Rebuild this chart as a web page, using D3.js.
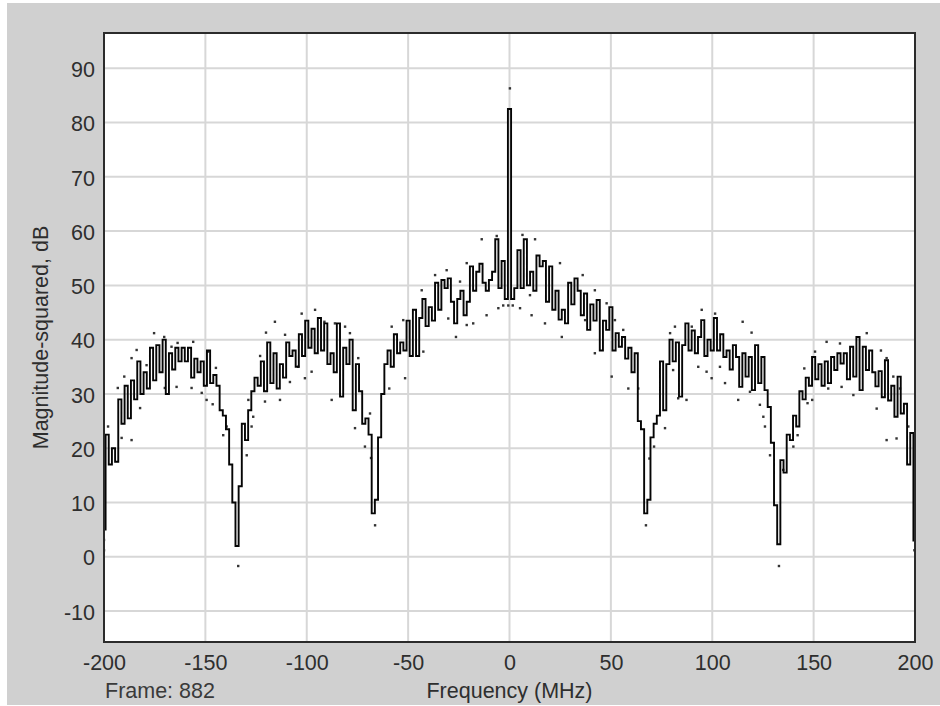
<!DOCTYPE html>
<html>
<head>
<meta charset="utf-8">
<script src="https://cdn.jsdelivr.net/npm/d3@7"></script>
<style>
  html, body { margin: 0; padding: 0; background: #ffffff; }
  svg { display: block; }
  text { font-family: "Liberation Sans", Arial, sans-serif; }
</style>
</head>
<body>
<svg id="chart" width="940" height="706"></svg>
<script>
// Spectrum frame: 257 bins evenly spaced from -200 MHz to +200 MHz
const freqStart = -200;
const freqStop = 200;
const magnitudeDb = [
  5, 22.5, 17, 20, 17.5, 29, 24.5, 31.5, 25.5, 32.5, 29, 36, 30, 34, 31, 38.5,
  32.5, 39, 34, 40, 30, 37.5, 34.5, 38.5, 36, 38.5, 36, 38.5, 33, 36.5, 34, 36,
  31.5, 38, 32, 33.5, 31.5, 27, 26, 23.5, 17, 10, 2, 13, 24.5, 21.5, 27, 30.5,
  33, 31.5, 36, 30.5, 39.5, 32, 37.5, 31, 35.5, 33, 39.5, 37, 38, 35, 41, 37,
  43.5, 38.5, 42, 37.5, 44, 38, 43, 35.5, 37.5, 34, 43, 29.5, 38.5, 35.5, 40, 27,
  35.5, 30.5, 24.5, 25.5, 22.5, 8, 10.5, 22, 30, 35.5, 38, 35, 41, 37.5, 39.5, 38,
  43.5, 37, 45.5, 37, 44, 47.5, 42.5, 46, 43.5, 50.5, 45.5, 51, 49.5, 51.3, 47, 43,
  47.5, 49, 44.5, 47, 53.5, 49, 52.5, 54, 50.5, 49, 51, 52.5, 58.5, 49.5, 54.5, 47.5,
  82.5,
  47.5, 49.5, 56.5, 49.5, 58.5, 50, 52.5, 49, 55.5, 53.5, 54.5, 47, 53.5, 45.5, 49, 43.7,
  45.5, 43, 50.5, 46.5, 51.3, 49, 44.5, 48.5, 41.8, 46.5, 43.5, 47.3, 38, 43.5, 41.8, 46,
  38, 41.2, 38.7, 40.5, 36.5, 38.5, 34, 37.5, 25, 23.5, 8, 10.5, 22, 24.5, 26, 36,
  27, 35.5, 40, 36, 39.5, 29.5, 39, 43, 38, 41.7, 37.5, 40.5, 43.6, 37, 40, 38,
  44, 38, 41, 36.8, 38, 34.5, 39, 36.8, 31.3, 37.5, 33.2, 36.8, 30.7, 39, 32, 36.8,
  30.7, 27.6, 21, 9.5, 2.3, 17.8, 15.5, 22.5, 21.5, 26, 24, 30.5, 29, 33, 31.5, 36.8,
  32.7, 35.5, 31.5, 36, 32, 36.8, 34.4, 37.5, 35.6, 37.5, 32.7, 38.7, 33.2, 40.5, 30.7, 38.7,
  34.4, 38, 34, 31.4, 34.2, 29.4, 36.2, 28.8, 31.5, 25.8, 33.2, 26.4, 28.2, 17, 22.8, 3
];

// Scattered hold samples (frequency in MHz, magnitude in dB)
const dotFreq = [
  -175.3, -170.3, -183.9, -163.7, -156, -186.4, -190, -193.2, -182.2, -191.3, -186.4, -164.2, -170, -156.8,
  -151.8, -149.4, -146.4, -144.8, -148.6, -166.7, -179, -139.5, -141.2, -200, -200, -133.8, -198,
  -95.9, -102.5, -115.7, -120.1, -110.7, -91.3, -86.1, -81.1, -78.7, -74.6, -108.3, -100.9, -104.2,
  -113.2, -120.6, -87.7, -128.8, -126.4, -127.2, -129.6, -76.2, -71.3, -68.3, -66.3, -97.6, -123,
  -13.7, -6.3, -21.1, -31, -36.7, -43.3, -58.1, -52.4, -11.3, -5.5, -26.4, -21.1, -42.5, -51.5, -59.3,
  -30.2, -17.9, -68.8, -24.4,
  -3.1, -0.6, 1.6, 5.2, 0.2, 12.6, 10.9, 25.8, 6.4, 24.9, 36.1, 42.1, 47.9, 52, 56.1, 17.5, 37.3, 42.1,
  50.4, 58.6, 63.5, 10.1,
  94.8, 101.4, 81.6, 79.2, 89.9, 115, 119.4, 103.8, 97.2, 93.1, 99.7, 106.3, 87.3, 83.2, 80.7, 112.8,
  118.6, 123.5, 125.2, 126, 128.5, 76.7, 71.3, 69, 67.3,
  176.2, 156.4, 163, 150.7, 183.2, 186, 189.3, 192.6, 145.4, 157.2, 163.8, 147, 149.3, 181.1, 186, 190.9,
  196.7, 140, 142.1, 135, 132.9, 199.7, 169.6
];
const dotDb = [
  41.2, 40.5, 38.1, 39.4, 39.6, 36.6, 33.2, 31.1, 27.4, 21.9, 21.5, 31.3, 31.1, 31.1,
  30.2, 28.9, 28.1, 34.8, 37.8, 38.7, 35.3, 24, 22.4, 3.1, 1.2, -1.7, 24,
  45.5, 44.8, 43.3, 41.3, 40.9, 43.3, 43, 42.4, 41.2, 36.6, 32.2, 32.9, 35,
  28.9, 28.6, 28.9, 28.9, 25.8, 24, 18.7, 23.7, 20.3, 18.2, 5.8, 34.1, 37,
  58.5, 59.1, 54.1, 52.8, 51.9, 49.1, 42.4, 43.6, 44.5, 45.8, 40.5, 42.7, 37.8, 32.9, 31,
  43.9, 43, 26.4, 50.7,
  46.3, 46.3, 46.3, 45.8, 86.3, 58.5, 44.5, 40.5, 59.3, 54.1, 51.9, 49.1, 46.7, 43.6, 41.8, 43, 43.6, 37.5,
  33.2, 31, 31, 48.2,
  45.5, 44.8, 42.4, 41.2, 42.4, 43.3, 41.3, 35, 34.1, 35, 32.9, 32, 28.9, 29.2, 34.4, 28.9,
  30.4, 28, 25.8, 24, 18.7, 23.7, 20.3, 18.1, 5.8,
  41.2, 39.6, 39.3, 37.8, 38, 36.6, 33.2, 31, 34.7, 31, 31.3, 28.3, 28.9, 27.3, 21.5, 21.8,
  24, 20.3, 22.4, 16, -1.7, 1.2, 29.8
];

const xTicks = [-200, -150, -100, -50, 0, 50, 100, 150, 200];
const yTicks = [-10, 0, 10, 20, 30, 40, 50, 60, 70, 80, 90];
const yRange = [-15.7, 96.5];
const frameText = "Frame: 882";
const xTitle = "Frequency (MHz)";
const yTitle = "Magnitude-squared, dB";

// Layout
const W = 940, H = 706;
const plot = { left: 104, right: 915, top: 33, bottom: 642 };
const fontSize = 21.5;
const textColor = "#2e2e2e";
const plainNumber = d => String(d); // ASCII hyphen for negatives

const svg = d3.select("#chart");

// Window background
svg.append("rect").attr("x", 0).attr("y", 0).attr("width", W).attr("height", H).attr("fill", "#ffffff");
svg.append("rect").attr("x", 7).attr("y", 3).attr("width", W - 7).attr("height", H - 4).attr("fill", "#d0d0d0");

const x = d3.scaleLinear().domain([freqStart, freqStop]).range([plot.left, plot.right]);
const y = d3.scaleLinear().domain(yRange).range([plot.bottom, plot.top]);

// Plot area
svg.append("rect")
  .attr("x", plot.left).attr("y", plot.top)
  .attr("width", plot.right - plot.left).attr("height", plot.bottom - plot.top)
  .attr("fill", "#ffffff");

// Grid
const grid = svg.append("g").attr("stroke", "#d7d7d7").attr("stroke-width", 2);
grid.selectAll("line.v").data(xTicks.slice(1, -1)).join("line")
  .attr("class", "v")
  .attr("x1", d => x(d)).attr("x2", d => x(d))
  .attr("y1", plot.top).attr("y2", plot.bottom);
grid.selectAll("line.h").data(yTicks).join("line")
  .attr("class", "h")
  .attr("x1", plot.left).attr("x2", plot.right)
  .attr("y1", d => y(d)).attr("y2", d => y(d));

// Clip for traces
svg.append("clipPath").attr("id", "plotClip")
  .append("rect")
  .attr("x", plot.left).attr("y", plot.top)
  .attr("width", plot.right - plot.left).attr("height", plot.bottom - plot.top);

const binStep = (freqStop - freqStart) / (magnitudeDb.length - 1);
const spectrum = magnitudeDb.map((v, i) => ({ f: freqStart + i * binStep, db: v }));

const traces = svg.append("g").attr("clip-path", "url(#plotClip)");

// Hold samples
traces.selectAll("rect.dot").data(dotFreq.map((f, i) => ({ f, db: dotDb[i] }))).join("rect")
  .attr("class", "dot")
  .attr("x", d => x(d.f) - 1.2).attr("y", d => y(d.db) - 1.2)
  .attr("width", 2.4).attr("height", 2.4)
  .attr("fill", "#333333");

// Stepped spectrum
const line = d3.line().x(d => x(d.f)).y(d => y(d.db)).curve(d3.curveStep);
traces.append("path")
  .datum(spectrum)
  .attr("d", line)
  .attr("fill", "none")
  .attr("stroke", "#050505")
  .attr("stroke-width", 1.9)
  .attr("stroke-linejoin", "miter");

// Axis frame
svg.append("rect")
  .attr("x", plot.left).attr("y", plot.top)
  .attr("width", plot.right - plot.left).attr("height", plot.bottom - plot.top)
  .attr("fill", "none").attr("stroke", "#2b2b2b").attr("stroke-width", 2);

// Axes (labels only)
const xAxis = d3.axisBottom(x).tickValues(xTicks).tickSize(0).tickPadding(13).tickFormat(plainNumber);
const gx = svg.append("g").attr("transform", `translate(0,${plot.bottom})`).call(xAxis);
gx.select(".domain").remove();
gx.selectAll("text").attr("fill", textColor).style("font-size", fontSize + "px")
  .style("font-family", "'Liberation Sans', Arial, sans-serif");

const yAxis = d3.axisLeft(y).tickValues(yTicks).tickSize(0).tickPadding(9).tickFormat(plainNumber);
const gy = svg.append("g").attr("transform", `translate(${plot.left},0)`).call(yAxis);
gy.select(".domain").remove();
gy.selectAll("text").attr("fill", textColor).attr("dy", "0.38em").style("font-size", fontSize + "px")
  .style("font-family", "'Liberation Sans', Arial, sans-serif");

// Titles
svg.append("text")
  .attr("x", 105).attr("y", 698)
  .attr("fill", "#3a3a3a")
  .style("font-size", fontSize + "px")
  .text(frameText);

svg.append("text")
  .attr("x", (plot.left + plot.right) / 2).attr("y", 698)
  .attr("text-anchor", "middle")
  .attr("fill", textColor)
  .style("font-size", fontSize + "px")
  .text(xTitle);

svg.append("text")
  .attr("transform", `translate(48,${(plot.top + plot.bottom) / 2}) rotate(-90)`)
  .attr("text-anchor", "middle")
  .attr("fill", textColor)
  .style("font-size", fontSize + "px")
  .text(yTitle);
</script>
</body>
</html>
